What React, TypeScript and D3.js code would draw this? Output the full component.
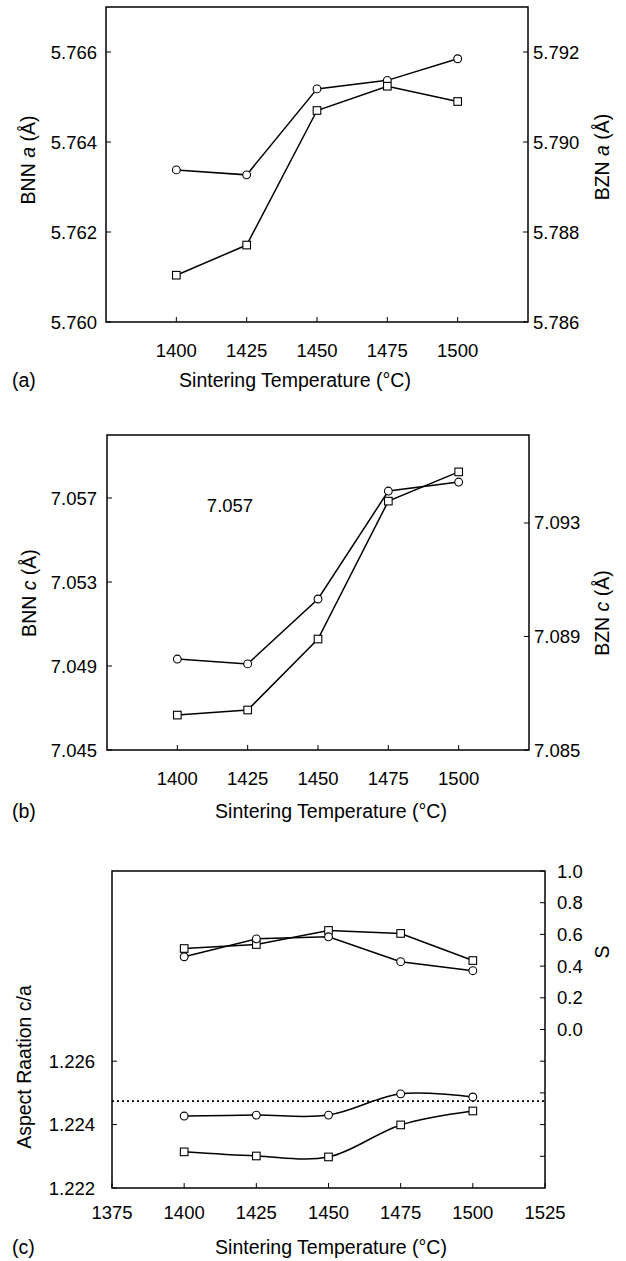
import React from 'react';
import * as d3 from 'd3';

// ---------- data ----------
const temperatures = [1400, 1425, 1450, 1475, 1500];

// panel (a): lattice parameter a
const bnnA = [5.76338, 5.76327, 5.76518, 5.76537, 5.76585]; // circles, left axis
const bznA = [5.78704, 5.78771, 5.7907, 5.79124, 5.7909]; // squares, right axis

// panel (b): lattice parameter c
const bnnC = [7.04933, 7.0491, 7.05219, 7.05733, 7.05776]; // circles, left axis
const bznC = [7.08623, 7.08641, 7.08891, 7.09377, 7.0948]; // squares, right axis

// panel (c): order parameter S (right) and aspect ratio c/a (left)
const sCircle = [0.459, 0.572, 0.585, 0.428, 0.371];
const sSquare = [0.511, 0.536, 0.625, 0.606, 0.435];
const caCircle = [1.22427, 1.2243, 1.2243, 1.22497, 1.22487];
const caSquare = [1.22314, 1.22301, 1.22298, 1.22399, 1.22443];
const idealCA = 1.22474;

// ticks
const xTicksAB = [1400, 1425, 1450, 1475, 1500];
const xTicksC = [1375, 1400, 1425, 1450, 1475, 1500, 1525];
const aLeftTicks = [5.76, 5.762, 5.764, 5.766];
const aRightTicks = [5.786, 5.788, 5.79, 5.792];
const bLeftTicks = [7.045, 7.049, 7.053, 7.057];
const bRightTicks = [7.085, 7.089, 7.093];
const cLeftTicks = [1.222, 1.224, 1.226];
const cRightTicks = [-0.8, -0.6, -0.4, -0.2, 0.0, 0.2, 0.4, 0.6, 0.8, 1.0];
const cRightLabelTicks = [0.0, 0.2, 0.4, 0.6, 0.8, 1.0];

const FONT = "'Liberation Sans', Arial, Helvetica, sans-serif";
const W = 626;
const H = 1261;
const TICK_FS = 18.5;
const LABEL_FS = 19.5;

type Box = { l: number; r: number; t: number; b: number };

const boxA: Box = { l: 106, r: 528, t: 7, b: 322 };
const boxB: Box = { l: 107, r: 529, t: 435, b: 750 };
const boxC: Box = { l: 112, r: 545, t: 871, b: 1188 };

function Circle({ x, y }: { x: number; y: number }) {
  return <circle cx={x} cy={y} r={3.9} fill="#fff" stroke="#000" strokeWidth={1.1} />;
}
function Square({ x, y }: { x: number; y: number }) {
  return <rect x={x - 3.8} y={y - 3.8} width={7.6} height={7.6} fill="#fff" stroke="#000" strokeWidth={1.1} />;
}

function Series({ xs, ys, x, y, marker, curve }: any) {
  const line = d3
    .line<number>()
    .x((_, i) => x(xs[i]))
    .y((d) => y(d))
    .curve(curve || d3.curveLinear);
  return (
    <g>
      <path d={line(ys) || ''} fill="none" stroke="#000" strokeWidth={1.5} />
      {ys.map((v: number, i: number) =>
        marker === 'circle' ? (
          <Circle key={i} x={x(xs[i])} y={y(v)} />
        ) : (
          <Square key={i} x={x(xs[i])} y={y(v)} />
        )
      )}
    </g>
  );
}

function Frame({ box }: { box: Box }) {
  return (
    <rect x={box.l} y={box.t} width={box.r - box.l} height={box.b - box.t} fill="none" stroke="#000" strokeWidth={1.5} />
  );
}

function BottomAxis({ box, x, ticks, labelTicks, labelDy }: any) {
  return (
    <g>
      {ticks.map((t: number) => (
        <line key={'t' + t} x1={x(t)} x2={x(t)} y1={box.b} y2={box.b - 5} stroke="#000" strokeWidth={1} />
      ))}
      {labelTicks.map((t: number) => (
        <text key={'l' + t} x={x(t)} y={box.b + labelDy} textAnchor="middle" dominantBaseline="central" fontSize={TICK_FS}>
          {d3.format('d')(t)}
        </text>
      ))}
    </g>
  );
}

function LeftAxis({ box, y, ticks, fmt, gap }: any) {
  return (
    <g>
      {ticks.map((t: number) => (
        <g key={t}>
          <line x1={box.l} x2={box.l + 5} y1={y(t)} y2={y(t)} stroke="#000" strokeWidth={1} />
          <text x={box.l - gap} y={y(t)} textAnchor="end" dominantBaseline="central" fontSize={TICK_FS}>
            {fmt(t)}
          </text>
        </g>
      ))}
    </g>
  );
}

function RightAxis({ box, y, ticks, labelTicks, fmt, gap }: any) {
  return (
    <g>
      {ticks.map((t: number) => (
        <line key={'t' + t} x1={box.r - 5} x2={box.r} y1={y(t)} y2={y(t)} stroke="#000" strokeWidth={1} />
      ))}
      {labelTicks.map((t: number) => (
        <text key={'l' + t} x={box.r + gap} y={y(t)} textAnchor="start" dominantBaseline="central" fontSize={TICK_FS}>
          {fmt(t)}
        </text>
      ))}
    </g>
  );
}

function VLabel({ x, y, children }: any) {
  return (
    <text transform={`translate(${x},${y}) rotate(-90)`} textAnchor="middle" dominantBaseline="central" fontSize={LABEL_FS}>
      {children}
    </text>
  );
}

export default function App() {
  const f3 = d3.format('.3f');
  const f1 = d3.format('.1f');

  // panel a scales
  const xA = d3.scaleLinear().domain([1375, 1525]).range([boxA.l, boxA.r]);
  const yAL = d3.scaleLinear().domain([5.76, 5.767]).range([boxA.b, boxA.t]);
  const yAR = d3.scaleLinear().domain([5.786, 5.793]).range([boxA.b, boxA.t]);

  // panel b scales
  const xB = d3.scaleLinear().domain([1375, 1525]).range([boxB.l, boxB.r]);
  const yBL = d3.scaleLinear().domain([7.045, 7.06]).range([boxB.b, boxB.t]);
  const yBR = d3.scaleLinear().domain([7.085, 7.0961]).range([boxB.b, boxB.t]);

  // panel c scales
  const xC = d3.scaleLinear().domain([1375, 1525]).range([boxC.l, boxC.r]);
  const yCL = d3.scaleLinear().domain([1.222, 1.232]).range([boxC.b, boxC.t]);
  const yCR = d3.scaleLinear().domain([-1.0, 1.0]).range([boxC.b, boxC.t]);

  return (
    <svg
      width={W}
      height={H}
      viewBox={`0 0 ${W} ${H}`}
      style={{ position: 'absolute', left: 0, top: 0, background: '#fff' }}
      fontFamily={FONT}
      fill="#000"
    >
      <rect x={0} y={0} width={W} height={H} fill="#fff" />

      {/* ---------- panel (a) ---------- */}
      <Frame box={boxA} />
      <BottomAxis box={boxA} x={xA} ticks={xTicksAB} labelTicks={xTicksAB} labelDy={28} />
      <LeftAxis box={boxA} y={yAL} ticks={aLeftTicks} fmt={f3} gap={9} />
      <RightAxis box={boxA} y={yAR} ticks={aRightTicks} labelTicks={aRightTicks} fmt={f3} gap={5} />
      <Series xs={temperatures} ys={bnnA} x={xA} y={yAL} marker="circle" />
      <Series xs={temperatures} ys={bznA} x={xA} y={yAR} marker="square" />
      <VLabel x={28} y={160}>
        BNN <tspan fontStyle="italic">a</tspan> (Å)
      </VLabel>
      <VLabel x={602} y={157}>
        BZN <tspan fontStyle="italic">a</tspan> (Å)
      </VLabel>
      <text x={12} y={380} dominantBaseline="central" fontSize={LABEL_FS}>(a)</text>
      <text x={295} y={380} textAnchor="middle" dominantBaseline="central" fontSize={LABEL_FS}>
        Sintering Temperature (°C)
      </text>

      {/* ---------- panel (b) ---------- */}
      <Frame box={boxB} />
      <BottomAxis box={boxB} x={xB} ticks={xTicksAB} labelTicks={xTicksAB} labelDy={28} />
      <LeftAxis box={boxB} y={yBL} ticks={bLeftTicks} fmt={f3} gap={10} />
      <RightAxis box={boxB} y={yBR} ticks={bRightTicks} labelTicks={bRightTicks} fmt={f3} gap={5} />
      <Series xs={temperatures} ys={bnnC} x={xB} y={yBL} marker="circle" />
      <Series xs={temperatures} ys={bznC} x={xB} y={yBR} marker="square" />
      <text x={230} y={505} textAnchor="middle" dominantBaseline="central" fontSize={TICK_FS}>
        7.057
      </text>
      <VLabel x={29} y={593}>
        BNN <tspan fontStyle="italic">c</tspan> (Å)
      </VLabel>
      <VLabel x={602} y={613}>
        BZN <tspan fontStyle="italic">c</tspan> (Å)
      </VLabel>
      <text x={12} y={811} dominantBaseline="central" fontSize={LABEL_FS}>(b)</text>
      <text x={331} y={811} textAnchor="middle" dominantBaseline="central" fontSize={LABEL_FS}>
        Sintering Temperature (°C)
      </text>

      {/* ---------- panel (c) ---------- */}
      <Frame box={boxC} />
      <BottomAxis box={boxC} x={xC} ticks={xTicksC} labelTicks={xTicksC} labelDy={24} />
      <LeftAxis box={boxC} y={yCL} ticks={cLeftTicks} fmt={f3} gap={17} />
      <RightAxis box={boxC} y={yCR} ticks={cRightTicks} labelTicks={cRightLabelTicks} fmt={f1} gap={12} />
      <line
        x1={boxC.l}
        x2={boxC.r}
        y1={yCL(idealCA)}
        y2={yCL(idealCA)}
        stroke="#000"
        strokeWidth={1.6}
        strokeDasharray="2,3"
      />
      <Series xs={temperatures} ys={sSquare} x={xC} y={yCR} marker="square" />
      <Series xs={temperatures} ys={sCircle} x={xC} y={yCR} marker="circle" />
      <Series xs={temperatures} ys={caCircle} x={xC} y={yCL} marker="circle" curve={d3.curveCatmullRom} />
      <Series xs={temperatures} ys={caSquare} x={xC} y={yCL} marker="square" curve={d3.curveCatmullRom} />
      <VLabel x={24} y={1067}>Aspect Raation c/a</VLabel>
      <VLabel x={602} y={952}>S</VLabel>
      <text x={12} y={1247} dominantBaseline="central" fontSize={LABEL_FS}>(c)</text>
      <text x={331} y={1247} textAnchor="middle" dominantBaseline="central" fontSize={LABEL_FS}>
        Sintering Temperature (°C)
      </text>
    </svg>
  );
}
